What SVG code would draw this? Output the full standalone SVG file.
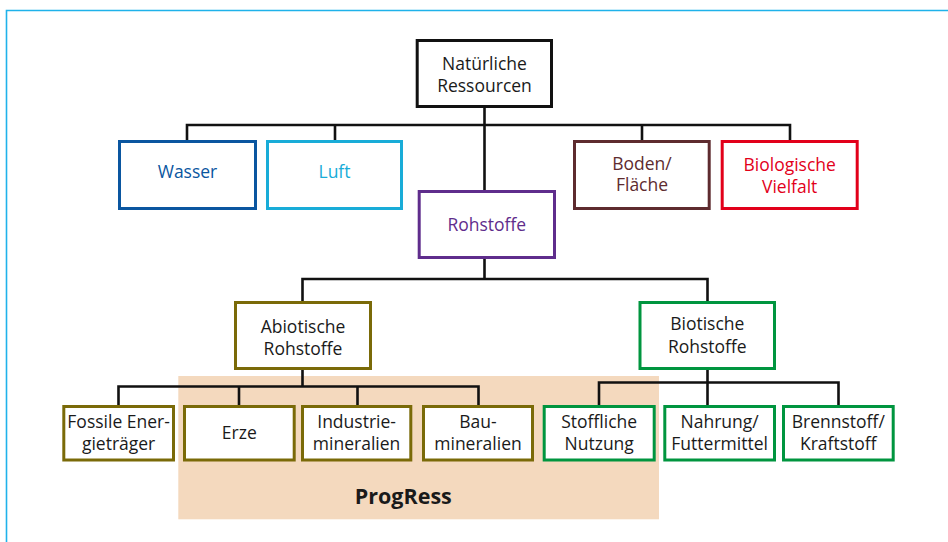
<svg xmlns="http://www.w3.org/2000/svg" width="948" height="542" viewBox="0 0 948 542">
<style>
.t{font-family:"Open Sans","Noto Sans","Liberation Sans",sans-serif;font-size:17.5px;text-anchor:middle;fill:#1a1a1a}
.b{fill:#fff;stroke-width:3}
.c{fill:none;stroke:#111;stroke-width:2.6;stroke-linecap:square}
.ab{stroke:#7a6a08}
.bi{stroke:#00953f}
</style>
<rect x="0" y="0" width="948" height="542" fill="#fff"/>
<path d="M6.5 542 V10.5 H948" fill="none" stroke="#1fb2ea" stroke-width="1.6"/>
<rect id="progress-bg" x="178.3" y="376" width="480.7" height="143.3" fill="#f4d9be"/>
<g id="connectors">
<path class="c" d="M484.5 108 V190 M187 140 V125 H790 V140 M335 125 V140 M642 125 V140"/>
<path class="c" d="M484.5 259 V279 M302.5 301 V279 H707.5 V301"/>
<path class="c" d="M302.5 370 V386.5 M118.5 405 V386.5 H478.5 V405 M239 386.5 V405 M357.5 386.5 V405"/>
<path class="c" d="M707.5 370 V405 M599 405 V382.5 H838.5 V405"/>
</g>
<g id="natuerliche-ressourcen">
<rect class="b" x="417.2" y="40.5" width="134.3" height="66" stroke="#111"/>
<text class="t" x="484.5" y="70">Natürliche</text>
<text class="t" x="484.5" y="91.5">Ressourcen</text>
</g>
<g id="wasser">
<rect class="b" x="119.5" y="141.5" width="136" height="67" stroke="#0a56a0"/>
<text class="t" x="187.5" y="178" fill="#0a56a0" style="fill:#0a56a0">Wasser</text>
</g>
<g id="luft">
<rect class="b" x="267.5" y="141.5" width="134" height="67" stroke="#18acd8"/>
<text class="t" x="334.5" y="178" style="fill:#18acd8">Luft</text>
</g>
<g id="boden">
<rect class="b" x="574.5" y="141.5" width="134.7" height="67" stroke="#5e2b2f"/>
<text class="t" x="642" y="170" style="fill:#5e2b2f">Boden/</text>
<text class="t" x="642" y="191" style="fill:#5e2b2f">Fläche</text>
</g>
<g id="biologische-vielfalt">
<rect class="b" x="722.2" y="141.5" width="135" height="67" stroke="#e2001a"/>
<text class="t" x="789.7" y="171" style="fill:#e2001a">Biologische</text>
<text class="t" x="789.7" y="192.5" style="fill:#e2001a">Vielfalt</text>
</g>
<g id="rohstoffe">
<rect class="b" x="419.2" y="191.5" width="135.3" height="66" stroke="#5f2d8c"/>
<text class="t" x="486.8" y="231" style="fill:#5f2d8c">Rohstoffe</text>
</g>
<g id="abiotische-rohstoffe">
<rect class="b ab" x="235.5" y="302.5" width="135" height="66"/>
<text class="t" x="303" y="333">Abiotische</text>
<text class="t" x="303" y="355">Rohstoffe</text>
</g>
<g id="biotische-rohstoffe">
<rect class="b bi" x="640" y="302.5" width="134.5" height="66"/>
<text class="t" x="707.3" y="330">Biotische</text>
<text class="t" x="707.3" y="352.7">Rohstoffe</text>
</g>
<g id="fossile">
<rect class="b ab" x="63.8" y="406.5" width="109.7" height="53.5"/>
<text class="t" x="118.6" y="428.3">Fossile Ener-</text>
<text class="t" x="118.6" y="450">gieträger</text>
</g>
<g id="erze">
<rect class="b ab" x="184.5" y="406.5" width="109.7" height="53.5"/>
<text class="t" x="239.3" y="439">Erze</text>
</g>
<g id="industriemineralien">
<rect class="b ab" x="302.5" y="406.5" width="108.3" height="53.5"/>
<text class="t" x="356.6" y="428.3">Industrie-</text>
<text class="t" x="356.6" y="450">mineralien</text>
</g>
<g id="baumineralien">
<rect class="b ab" x="423.5" y="406.5" width="109" height="53.5"/>
<text class="t" x="478" y="428.3">Bau-</text>
<text class="t" x="478" y="450">mineralien</text>
</g>
<g id="stoffliche-nutzung">
<rect class="b bi" x="544.2" y="406.5" width="110" height="53.5"/>
<text class="t" x="599.2" y="428.3">Stoffliche</text>
<text class="t" x="599.2" y="450">Nutzung</text>
</g>
<g id="nahrung">
<rect class="b bi" x="664.8" y="406.5" width="109.7" height="53.5"/>
<text class="t" x="719.6" y="428.3">Nahrung/</text>
<text class="t" x="719.6" y="450">Futtermittel</text>
</g>
<g id="brennstoff">
<rect class="b bi" x="783.5" y="406.5" width="109.7" height="53.5"/>
<text class="t" x="838.3" y="428.3">Brennstoff/</text>
<text class="t" x="838.3" y="450">Kraftstoff</text>
</g>
<text x="403.3" y="503.5" font-family="'Open Sans','Noto Sans','Liberation Sans',sans-serif" font-size="21.5" font-weight="bold" text-anchor="middle" fill="#1a1a1a">ProgRess</text>
</svg>
